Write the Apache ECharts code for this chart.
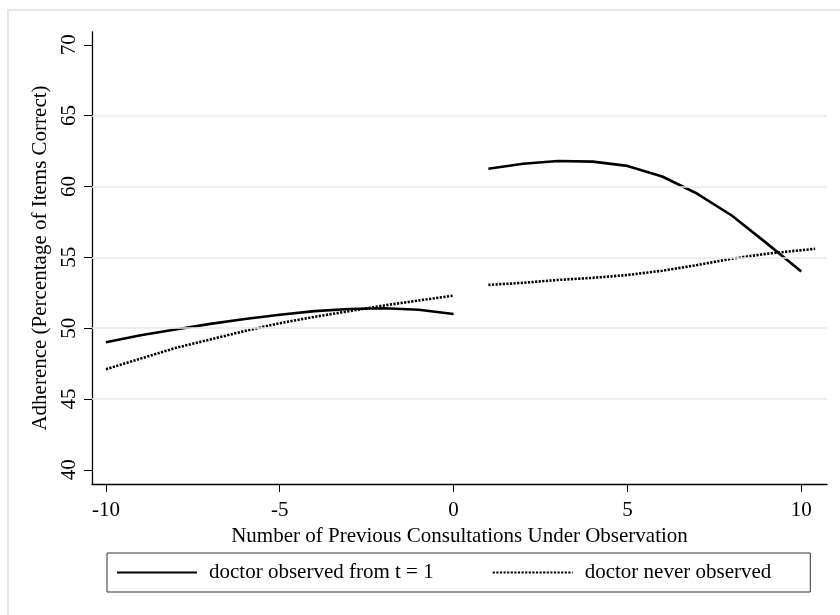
<!DOCTYPE html>
<html>
<head>
<meta charset="utf-8">
<script src="https://cdn.jsdelivr.net/npm/echarts@6/dist/echarts.min.js"></script>
<style>html,body{margin:0;padding:0;background:#fff;}#c{width:840px;height:615px;}</style>
</head>
<body>
<div id="c"></div>
<script>
// ---- data ----
var seriesNames = ['doctor observed from t = 1', 'doctor never observed'];
var xPre = [-10, -9, -8, -7, -6, -5, -4, -3, -2, -1, 0];
var observedPre = [49.0, 49.5, 49.9, 50.3, 50.65, 50.95, 51.2, 51.35, 51.4, 51.3, 51.0];
var neverPre = [47.1, 47.85, 48.6, 49.2, 49.8, 50.35, 50.8, 51.2, 51.6, 51.95, 52.3];
var xPostObserved = [1, 2, 3, 4, 5, 6, 7, 8, 9, 10];
var observedPost = [61.25, 61.6, 61.8, 61.75, 61.45, 60.7, 59.5, 57.95, 56.0, 54.0];
var xPostNever = [1, 2, 3, 4, 5, 6, 7, 8, 9, 10, 10.4];
var neverPost = [53.05, 53.2, 53.4, 53.55, 53.75, 54.05, 54.45, 54.9, 55.25, 55.5, 55.6];
var xTicks = [-10, -5, 0, 5, 10];
var yTicks = [40, 45, 50, 55, 60, 65, 70];
var gridValues = [45, 50, 55, 60, 65];
var xTitle = 'Number of Previous Consultations Under Observation';
var yTitle = 'Adherence (Percentage of Items Correct)';

function pairs(xs, ys) { return xs.map(function (x, i) { return [x, ys[i]]; }); }
function withGap(a, b) { return a.concat([[0.5, null]], b); }

var FONT = '"Liberation Serif", "Times New Roman", serif';
var chart = echarts.init(document.getElementById('c'), null, { renderer: 'canvas' });
chart.setOption({
  animation: false,
  backgroundColor: '#ffffff',
  graphic: [{
    type: 'rect', z: -10, silent: true,
    shape: { x: 8, y: 10, width: 900, height: 700 },
    style: { fill: 'none', stroke: '#e6e6e6', lineWidth: 2 }
  }],
  grid: { left: 92, right: 13, top: 32, bottom: 131, containLabel: false },
  legend: {
    data: seriesNames,
    left: 107, top: 553,
    orient: 'horizontal',
    backgroundColor: '#fff',
    borderColor: '#333', borderWidth: 1, borderRadius: 0,
    padding: [9, 39, 9, 9],
    itemWidth: 80, itemHeight: 14, itemGap: 58,
    itemStyle: { opacity: 0 },
    textStyle: { fontFamily: FONT, fontSize: 21, color: '#000', padding: [0, 0, 0, 7] }
  },
  xAxis: {
    type: 'value', min: -10.4, max: 10.74,
    name: xTitle, nameLocation: 'middle', nameGap: 31,
    nameTextStyle: { fontFamily: FONT, fontSize: 21, color: '#000' },
    axisLine: { show: true, onZero: false, lineStyle: { color: '#000', width: 1.3 } },
    axisTick: { show: true, length: 8, lineStyle: { color: '#000', width: 1 }, customValues: xTicks },
    axisLabel: { fontFamily: FONT, fontSize: 21, color: '#000', margin: 16, customValues: xTicks,
      formatter: function (v) { return String(v); } },
    splitLine: { show: false }
  },
  yAxis: {
    type: 'value', min: 39.0, max: 70.9,
    name: yTitle, nameLocation: 'middle', nameGap: 33, nameRotate: 90,
    nameTextStyle: { fontFamily: FONT, fontSize: 21, color: '#000' },
    axisLine: { show: true, onZero: false, lineStyle: { color: '#000', width: 1.3 } },
    axisTick: { show: true, length: 8, lineStyle: { color: '#000', width: 1 }, customValues: yTicks },
    axisLabel: { fontFamily: FONT, fontSize: 21, color: '#000', margin: 12, rotate: 90, customValues: yTicks,
      formatter: function (v) { return String(v); } },
    splitLine: { show: false }
  },
  series: [
    {
      name: 'grid', type: 'line', data: [], z: 1, silent: true,
      markLine: {
        silent: true, symbol: ['none', 'none'], label: { show: false },
        lineStyle: { color: '#e8e8e8', width: 1.6, type: 'solid' },
        data: gridValues.map(function (v) { return { yAxis: v }; })
      }
    },
    {
      name: seriesNames[0], type: 'line', z: 3,
      data: withGap(pairs(xPre, observedPre), pairs(xPostObserved, observedPost)),
      showSymbol: false, symbol: 'none', connectNulls: false,
      lineStyle: { color: '#000', width: 2.6, type: 'solid' },
      itemStyle: { color: '#000' }
    },
    {
      name: seriesNames[1], type: 'line', z: 2,
      data: withGap(pairs(xPre, neverPre), pairs(xPostNever, neverPost)),
      showSymbol: false, symbol: 'none', connectNulls: false,
      lineStyle: { color: '#000', width: 2.6, type: [2.2, 1.4] },
      itemStyle: { color: '#000' }
    }
  ]
});
</script>
</body>
</html>
